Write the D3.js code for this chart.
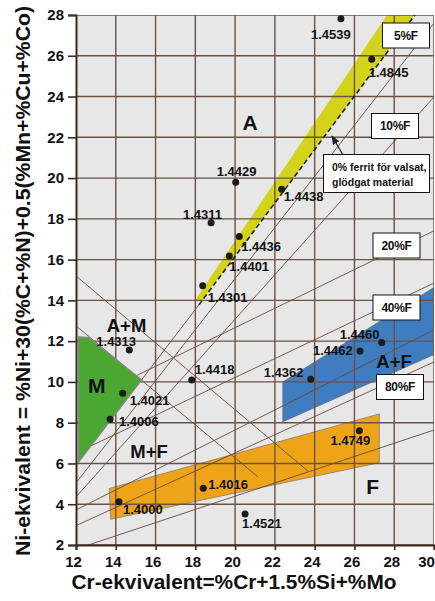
<!DOCTYPE html>
<html>
<head>
<meta charset="utf-8">
<script src="https://cdn.jsdelivr.net/npm/d3@7"></script>
<style>
  html, body { margin: 0; padding: 0; background: #ffffff; }
  svg { display: block; font-family: "Liberation Sans", Arial, sans-serif; }
</style>
</head>
<body>
<svg id="chart" width="435" height="601"></svg>
<script>
// Schaeffler diagram: Cr-equivalent (x) vs Ni-equivalent (y)
const xTicks = [12, 14, 16, 18, 20, 22, 24, 26, 28, 30];
const yTicks = [2, 4, 6, 8, 10, 12, 14, 16, 18, 20, 22, 24, 26, 28];

// Steel grades: name, Cr-eq, Ni-eq
const steelNames = ["1.4539","1.4845","1.4429","1.4438","1.4311","1.4436","1.4401","1.4301",
  "1.4313","1.4418","1.4021","1.4006","1.4000","1.4016","1.4521","1.4749","1.4362","1.4462","1.4460"];
const steelCr = [25.32, 26.87, 20.03, 22.34, 18.79, 20.21, 19.71, 18.37,
  14.68, 17.82, 14.35, 13.71, 14.16, 18.40, 20.50, 26.25, 23.80, 26.28, 27.37];
const steelNi = [27.81, 25.83, 19.80, 19.45, 17.81, 17.13, 16.18, 14.72,
  11.57, 10.10, 9.44, 8.17, 4.12, 4.78, 3.52, 7.61, 10.13, 11.52, 11.93];

// Steel-family areas (Cr-eq, Ni-eq corners)
const austeniticArea = [[17.98, 14.0], [27.64, 28.0], [29.04, 28.0], [18.33, 14.0]];
const duplexArea = [[22.4, 10.0], [30.6, 15.0], [30.6, 11.6], [22.4, 8.05]];
const ferriticArea = [[13.67, 4.77], [27.25, 8.43], [27.25, 6.04], [13.74, 3.26]];
const martensiticArea = [[12.12, 12.21], [12.62, 12.19], [15.30, 10.10], [12.13, 6.07]];

// Ferrite-content lines
const ferriteLines = [
  {name: "5%F",   from: [12, 5.04],    to: [30, 27.61]},
  {name: "10%F",  from: [12, 4.36],    to: [30, 23.98]},
  {name: "20%F",  from: [15.0, 10.29], to: [30, 17.41]},
  {name: "40%F",  from: [12.75, 6.86], to: [30, 14.85]},
  {name: "60%F",  from: [12, 3.72],    to: [30, 12.55]},
  {name: "80%F",  from: [12, 2.95],    to: [30, 10.98]},
  {name: "100%F", from: [12, 1.8],     to: [30, 7.64]}
];
// 0 % ferrite line: solid below the austenitic area, dashed above it
const zeroFerriteLine = {from: [12.13, 6.07], to: [29.04, 28.0]};
const zeroFerriteDashFrom = [18.18, 13.78];
// Martensite boundaries
const martensiteLines = [
  {from: [12, 15.2],  to: [23.66, 5.63]},
  {from: [12, 12.75], to: [21.15, 5.34]}
];

// Region labels
const regionLabels = [
  {text: "A",   cr: 20.75, ni: 22.7},
  {text: "A+M", cr: 14.54, ni: 12.76},
  {text: "M",   cr: 13.04, ni: 9.8},
  {text: "M+F", cr: 15.67, ni: 6.61},
  {text: "A+F", cr: 27.99, ni: 10.98},
  {text: "F",   cr: 26.91, ni: 4.85}
];
const boxLabels = ["5%F", "10%F", "20%F", "40%F", "80%F"];

// --- layout ---
const svg = d3.select("#chart");
const x = d3.scaleLinear().domain([12, 30]).range([76, 434]);
const y = d3.scaleLinear().domain([2, 28]).range([545, 15]);
const gridColor = "#6b5244";
const lineColor = "#6a4c3c";

svg.append("defs").append("clipPath").attr("id", "plotClip")
  .append("rect").attr("x", x(12)).attr("y", y(28))
  .attr("width", x(30) - x(12)).attr("height", y(2) - y(28));

svg.append("rect").attr("x", x(12)).attr("y", y(28))
  .attr("width", x(30) - x(12)).attr("height", y(2) - y(28))
  .attr("fill", "#e7e7e7");

const plot = svg.append("g").attr("clip-path", "url(#plotClip)");

// colored steel-family areas
const poly = pts => pts.map(p => [x(p[0]), y(p[1])].join(",")).join(" ");
plot.append("polygon").attr("points", poly(ferriticArea))
  .attr("fill", "#eea419").attr("stroke", "#8a7a6a").attr("stroke-width", 0.8);
plot.append("polygon").attr("points", poly(duplexArea))
  .attr("fill", "#3f7cc0").attr("stroke", "#5a6a80").attr("stroke-width", 0.8);
plot.append("polygon").attr("points", poly(austeniticArea))
  .attr("fill", "#d3d31c");

// grid
const grid = plot.append("g");
grid.selectAll(".gx").data(xTicks).join("line")
  .attr("x1", d => x(d)).attr("x2", d => x(d))
  .attr("y1", y(28)).attr("y2", y(2))
  .attr("stroke", gridColor).attr("stroke-width", 1.4);
grid.selectAll(".gy").data(yTicks).join("line")
  .attr("x1", x(12)).attr("x2", x(30))
  .attr("y1", d => y(d)).attr("y2", d => y(d))
  .attr("stroke", gridColor).attr("stroke-width", 1.4);

// boundary lines
const seg = (g, a, b) => g.append("line")
  .attr("x1", x(a[0])).attr("y1", y(a[1]))
  .attr("x2", x(b[0])).attr("y2", y(b[1]));
ferriteLines.forEach(l => seg(plot, l.from, l.to).attr("stroke", lineColor).attr("stroke-width", 0.9));
martensiteLines.forEach(l => seg(plot, l.from, l.to).attr("stroke", lineColor).attr("stroke-width", 0.9));
seg(plot, zeroFerriteLine.from, zeroFerriteDashFrom).attr("stroke", lineColor).attr("stroke-width", 0.9);
seg(plot, zeroFerriteDashFrom, zeroFerriteLine.to)
  .attr("stroke", "#222").attr("stroke-width", 1.6).attr("stroke-dasharray", "5,3");

// martensitic area lies on top of the lines
plot.append("polygon").attr("points", poly(martensiticArea))
  .attr("fill", "#4aa832").attr("stroke", "#8a8a8a").attr("stroke-width", 1.2);

// axes
const axL = svg.append("g").attr("transform", `translate(${x(12)},0)`)
  .call(d3.axisLeft(y).tickValues(yTicks).tickSize(8).tickPadding(4).tickFormat(d3.format("d")));
const axB = svg.append("g").attr("transform", `translate(0,${y(2)})`)
  .call(d3.axisBottom(x).tickValues(xTicks).tickSize(5).tickPadding(6).tickFormat(d3.format("d")));
[axL, axB].forEach(a => {
  a.select(".domain").attr("stroke", "#3a2a22").attr("stroke-width", 2);
  a.selectAll(".tick line").attr("stroke", "#3a2a22").attr("stroke-width", 1.6);
  a.selectAll(".tick text").attr("font-size", 15).attr("font-weight", "bold")
    .attr("fill", "#111").attr("font-family", "Liberation Sans, Arial, sans-serif");
});
axB.selectAll(".tick text").attr("dx", d => (d === 30 ? -8 : -3));

// axis titles
svg.append("text").attr("x", 234).attr("y", 589).attr("text-anchor", "middle")
  .attr("font-size", 20).attr("font-weight", "bold").attr("fill", "#111")
  .attr("textLength", 325).attr("lengthAdjust", "spacingAndGlyphs")
  .text("Cr-ekvivalent=%Cr+1.5%Si+%Mo");
svg.append("text").attr("transform", "translate(30,281) rotate(-90)")
  .attr("text-anchor", "middle").attr("font-size", 19.5).attr("font-weight", "bold").attr("fill", "#111")
  .attr("textLength", 550).attr("lengthAdjust", "spacingAndGlyphs")
  .text("Ni-ekvivalent = %Ni+30(%C+%N)+0.5(%Mn+%Cu+%Co)");

// steel grade points and labels
const labelOffset = {
  "1.4539": [-30, 16], "1.4845": [-3, 13], "1.4429": [-19, -11], "1.4438": [2, 7],
  "1.4311": [-28, -8], "1.4436": [2, 10], "1.4401": [0, 11], "1.4301": [5, 12],
  "1.4313": [-33, -8], "1.4418": [3, -10], "1.4021": [7, 7], "1.4006": [9, 2],
  "1.4000": [4, 8], "1.4016": [5, -4], "1.4521": [-3, 9], "1.4749": [-29, 10],
  "1.4362": [-47, -7], "1.4462": [-47, 0], "1.4460": [-42, -8]
};
const steels = steelNames.map((n, i) => ({name: n, cr: steelCr[i], ni: steelNi[i]}));
svg.selectAll(".dot").data(steels).join("circle")
  .attr("cx", d => x(d.cr)).attr("cy", d => y(d.ni)).attr("r", 3.5).attr("fill", "#1e1a1a");
svg.selectAll(".lbl").data(steels).join("text")
  .attr("x", d => x(d.cr) + labelOffset[d.name][0])
  .attr("y", d => y(d.ni) + labelOffset[d.name][1])
  .attr("dy", "0.35em").attr("font-size", 13).attr("font-weight", "bold").attr("fill", "#111")
  .text(d => d.name);

// region labels
svg.selectAll(".reg").data(regionLabels).join("text")
  .attr("x", d => x(d.cr)).attr("y", d => y(d.ni)).attr("dy", "0.35em")
  .attr("text-anchor", "middle").attr("font-weight", "bold").attr("fill", "#111")
  .attr("font-size", d => (d.text.length > 1 ? 18.5 : 21))
  .text(d => d.text);

// ferrite-content label boxes
const boxPos = {"5%F": [406, 35.5], "10%F": [395, 126], "20%F": [396.5, 245.5], "40%F": [396.5, 307.5], "80%F": [400, 387]};
const boxes = svg.selectAll(".box").data(boxLabels).join("g")
  .attr("transform", d => `translate(${boxPos[d][0]},${boxPos[d][1]})`);
boxes.append("rect").attr("x", -23.5).attr("y", -12.5).attr("width", 47).attr("height", 25)
  .attr("fill", "#fff").attr("stroke", "#111").attr("stroke-width", 1);
boxes.append("text").attr("text-anchor", "middle").attr("dy", "0.35em")
  .attr("font-size", 12).attr("font-weight", "bold").attr("fill", "#111")
  .attr("letter-spacing", -0.3).text(d => d);

// annotation for the 0 % ferrite line
svg.append("defs").append("marker").attr("id", "arrow").attr("viewBox", "0 0 10 10")
  .attr("refX", 9).attr("refY", 5).attr("markerWidth", 7).attr("markerHeight", 7).attr("orient", "auto")
  .append("path").attr("d", "M0,1 L10,5 L0,9 Z").attr("fill", "#222");
svg.append("line").attr("x1", 343).attr("y1", 155).attr("x2", 332).attr("y2", 136)
  .attr("stroke", "#222").attr("stroke-width", 1.3).attr("marker-end", "url(#arrow)");
svg.append("rect").attr("x", 323.5).attr("y", 154.5).attr("width", 106).attr("height", 38)
  .attr("fill", "#fff").attr("stroke", "#111").attr("stroke-width", 1);
svg.append("text").attr("x", 332).attr("y", 170.5).attr("font-size", 10.5).attr("font-weight", "bold")
  .attr("fill", "#111").text("0% ferrit för valsat,");
svg.append("text").attr("x", 332).attr("y", 185.5).attr("font-size", 10.5).attr("font-weight", "bold")
  .attr("fill", "#111").text("glödgat material");
</script>
</body>
</html>
